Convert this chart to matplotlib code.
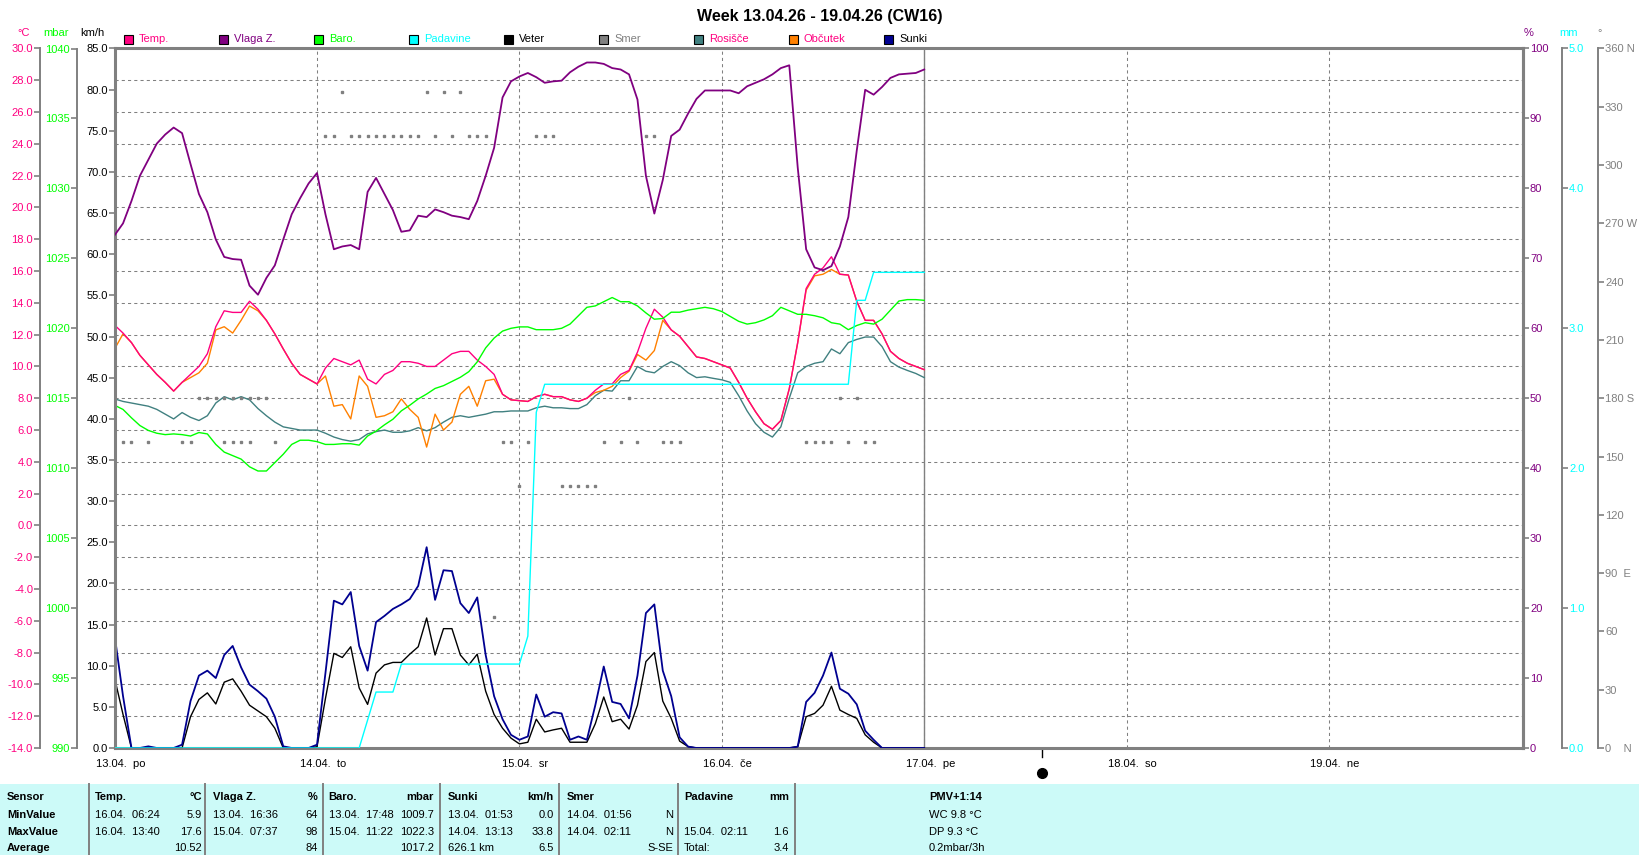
# Weather station week chart (WsWin style) - 13.04.26 - 19.04.26

import numpy as np
import matplotlib
matplotlib.use("Agg")
import matplotlib.pyplot as plt
import matplotlib.transforms as mtransforms
from matplotlib.patches import Rectangle
from matplotlib.ticker import FormatStrFormatter

plt.rcParams['font.family'] = ['Liberation Sans', 'DejaVu Sans']
plt.rcParams['font.size'] = 8

# ---- data (hourly, 13.04. 00:00 -> 17.04. 00:00) ----
temp = [12.6, 12.1, 11.5, 10.7, 10.1, 9.5, 9.0, 8.45, 9.0, 9.5, 10.0, 10.8, 12.5, 13.5, 13.4, 13.4, 14.1, 13.6, 12.9, 12.05, 11.1, 10.2, 9.5, 9.2,
        8.9, 9.9, 10.5, 10.3, 10.1, 10.4, 9.2, 8.9, 9.5, 9.75, 10.3, 10.3, 10.2, 10.0, 10.0, 10.4, 10.8, 10.95, 10.95, 10.4, 10.0, 9.5, 8.25, 7.9,
        7.85, 7.8, 8.1, 8.25, 8.1, 8.1, 7.9, 7.8, 8.0, 8.5, 8.9, 8.9, 9.5, 9.75, 10.9, 12.4, 13.6, 13.1, 12.3, 11.9, 11.25, 10.6, 10.5, 10.3,
        10.1, 9.9, 9.0, 8.0, 7.15, 6.4, 6.05, 6.6, 8.6, 11.5, 14.9, 15.8, 16.2, 16.9, 15.8, 15.75, 14.1, 12.9, 12.9, 12.05, 10.95, 10.5, 10.2, 10.0,
        9.8]
feel = [11.1, 12.05, 11.5, 10.7, 10.1, 9.5, 9.0, 8.45, 9.0, 9.3, 9.6, 10.2, 12.3, 12.5, 12.1, 12.9, 13.8, 13.5, 12.9, 12.05, 11.1, 10.2, 9.5, 9.2,
        8.9, 9.4, 7.5, 7.6, 6.7, 9.4, 8.75, 6.8, 6.9, 7.15, 7.96, 7.3, 6.8, 4.93, 7.0, 6.0, 6.5, 8.25, 8.75, 7.5, 9.1, 9.2, 8.25, 7.9,
        7.85, 7.8, 8.1, 8.25, 8.1, 8.1, 7.9, 7.8, 8.0, 8.36, 8.5, 8.75, 9.3, 9.7, 10.75, 10.4, 11.0, 12.9, 12.3, 11.9, 11.25, 10.6, 10.5, 10.3,
        10.1, 9.9, 9.0, 8.0, 7.15, 6.4, 6.05, 6.6, 8.6, 11.5, 14.8, 15.7, 15.8, 16.1, 15.8, 15.75, 14.1, 12.9, 12.9, 12.05, 10.95, 10.5, 10.2, 10.0,
        9.8]
dew = [7.96, 7.8, 7.7, 7.6, 7.5, 7.3, 7.0, 6.7, 7.1, 6.8, 6.6, 6.9, 7.7, 8.1, 7.9, 8.1, 7.9, 7.35, 6.9, 6.5, 6.2, 6.1, 6.0, 6.0,
       6.0, 5.8, 5.56, 5.4, 5.3, 5.4, 5.76, 5.9, 6.0, 5.86, 5.86, 5.95, 6.15, 5.95, 6.15, 6.5, 6.8, 6.9, 6.8, 6.9, 7.0, 7.15, 7.15, 7.2,
       7.2, 7.2, 7.4, 7.5, 7.4, 7.4, 7.35, 7.35, 7.6, 8.16, 8.5, 8.45, 9.1, 9.1, 10.0, 9.7, 9.6, 10.0, 10.3, 10.05, 9.6, 9.3, 9.35, 9.25,
       9.16, 9.0, 8.16, 7.2, 6.4, 5.86, 5.56, 6.2, 8.0, 9.6, 10.0, 10.2, 10.3, 11.1, 10.8, 11.5, 11.7, 11.85, 11.85, 11.25, 10.3, 9.96, 9.75, 9.56,
       9.3]
humidity = [73.3, 75.0, 78.2, 81.8, 84.1, 86.4, 87.7, 88.7, 87.9, 83.5, 79.2, 76.6, 72.7, 70.2, 69.9, 69.8, 66.1, 64.8, 67.2, 69.0, 72.7, 76.3, 78.6, 80.7,
            82.2, 76.3, 71.3, 71.7, 71.9, 71.3, 79.5, 81.5, 79.2, 76.9, 73.8, 74.0, 76.1, 75.9, 77.0, 76.6, 76.1, 75.9, 75.6, 78.2, 81.8, 85.8, 93.0, 95.3,
            96.0, 96.5, 95.9, 95.1, 95.3, 95.4, 96.6, 97.4, 98.0, 98.0, 97.8, 97.2, 97.0, 96.3, 92.7, 81.8, 76.4, 81.2, 87.5, 88.4, 90.7, 92.8, 94.0, 94.0,
            94.0, 94.0, 93.6, 94.6, 95.1, 95.6, 96.3, 97.2, 97.6, 83.0, 71.3, 68.7, 68.3, 68.9, 71.7, 75.9, 85.4, 94.1, 93.4, 94.5, 95.8, 96.3, 96.4, 96.5,
            97.0]
pressure = [1014.5, 1014.2, 1013.6, 1013.05, 1012.7, 1012.5, 1012.4, 1012.45, 1012.4, 1012.3, 1012.55, 1012.45, 1011.7, 1011.15, 1010.9, 1010.65, 1010.1, 1009.8, 1009.8, 1010.4, 1011.0, 1011.7, 1012.0, 1012.0,
            1011.9, 1011.7, 1011.7, 1011.75, 1011.75, 1011.65, 1012.3, 1012.65, 1013.1, 1013.5, 1014.1, 1014.5, 1014.95, 1015.3, 1015.7, 1015.9, 1016.2, 1016.5, 1016.9, 1017.6, 1018.6, 1019.3, 1019.8, 1020.0,
            1020.1, 1020.1, 1019.9, 1019.9, 1019.9, 1020.0, 1020.3, 1020.9, 1021.5, 1021.6, 1021.9, 1022.2, 1021.9, 1021.9, 1021.6, 1021.1, 1020.65, 1020.7, 1021.15, 1021.15, 1021.3, 1021.4, 1021.5, 1021.4,
            1021.2, 1020.85, 1020.5, 1020.3, 1020.4, 1020.6, 1020.9, 1021.5, 1021.25, 1021.0, 1021.0, 1020.9, 1020.75, 1020.4, 1020.3, 1019.9, 1020.2, 1020.4, 1020.3, 1020.65, 1021.3, 1021.95, 1022.05, 1022.05,
            1022.0]
rain = [0.0, 0.0, 0.0, 0.0, 0.0, 0.0, 0.0, 0.0, 0.0, 0.0, 0.0, 0.0, 0.0, 0.0, 0.0, 0.0, 0.0, 0.0, 0.0, 0.0, 0.0, 0.0, 0.0, 0.0,
        0.0, 0.0, 0.0, 0.0, 0.0, 0.0, 0.2, 0.4, 0.4, 0.4, 0.6, 0.6, 0.6, 0.6, 0.6, 0.6, 0.6, 0.6, 0.6, 0.6, 0.6, 0.6, 0.6, 0.6,
        0.6, 0.8, 2.4, 2.6, 2.6, 2.6, 2.6, 2.6, 2.6, 2.6, 2.6, 2.6, 2.6, 2.6, 2.6, 2.6, 2.6, 2.6, 2.6, 2.6, 2.6, 2.6, 2.6, 2.6,
        2.6, 2.6, 2.6, 2.6, 2.6, 2.6, 2.6, 2.6, 2.6, 2.6, 2.6, 2.6, 2.6, 2.6, 2.6, 2.6, 3.2, 3.2, 3.4, 3.4, 3.4, 3.4, 3.4, 3.4,
        3.4]
wind = [8.5, 4.07, 0, 0, 0, 0, 0, 0, 0, 3.8, 5.9, 6.7, 5.35, 8.0, 8.4, 6.9, 5.2, 4.5, 3.8, 2.4, 0, 0, 0, 0,
        0.15, 6.0, 11.5, 11.0, 12.3, 7.3, 5.3, 9.1, 10.1, 10.4, 10.4, 11.4, 12.3, 15.8, 11.3, 14.5, 14.5, 11.3, 10.1, 11.4, 6.9, 4.07, 2.4, 1.2,
        0.5, 0.7, 3.5, 1.95, 2.2, 2.4, 0.7, 0.7, 0.7, 2.95, 6.2, 3.2, 3.5, 2.3, 5.2, 10.5, 11.6, 5.7, 3.6, 0.84, 0.17, 0, 0, 0,
        0, 0, 0, 0, 0, 0, 0, 0, 0, 0.17, 3.8, 4.2, 5.2, 7.5, 4.6, 4.07, 3.6, 1.6, 0.7, 0, 0, 0, 0, 0,
        0]
gust = [13.7, 6.3, 0, 0, 0.2, 0, 0, 0, 0.4, 5.7, 8.8, 9.4, 8.5, 11.3, 12.4, 9.8, 7.7, 6.9, 6.0, 3.8, 0.2, 0, 0, 0,
        0.4, 9.1, 17.9, 17.45, 18.95, 12.4, 9.4, 15.3, 16.05, 16.9, 17.45, 18.1, 19.7, 24.4, 18.0, 21.6, 21.5, 17.6, 16.4, 18.3, 11.3, 6.3, 3.5, 1.6,
        1.0, 1.4, 6.5, 3.8, 4.35, 4.2, 1.0, 1.4, 1.0, 5.2, 9.9, 5.6, 5.35, 3.6, 8.8, 16.4, 17.45, 9.4, 6.3, 1.3, 0.17, 0, 0, 0,
        0, 0, 0, 0, 0, 0, 0, 0, 0, 0.17, 5.6, 6.7, 8.8, 11.6, 7.2, 6.6, 5.3, 2.1, 1.0, 0, 0, 0, 0, 0,
        0]
dir_hours = [1, 2, 4, 8, 9, 10, 11, 12, 13, 13, 14, 14, 15, 15, 16, 16, 17, 18, 19,
             25, 26, 27, 28, 29, 30, 31, 32, 33, 34, 35, 36, 37, 38, 39, 40, 41, 42, 43, 44, 45, 46, 47,
             48, 49, 50, 51, 52, 53, 54, 55, 56, 57, 58, 60, 61, 62, 63, 64, 65, 66, 67,
             82, 83, 84, 85, 86, 87, 88, 89, 90]
dir_deg = [157.5, 157.5, 157.5, 157.5, 157.5, 180, 180, 180, 180, 157.5, 180, 157.5, 180, 157.5, 180, 157.5, 180, 180, 157.5,
           315, 315, 337.5, 315, 315, 315, 315, 315, 315, 315, 315, 315, 337.5, 315, 337.5, 315, 337.5, 315, 315, 315, 67.5, 157.5, 157.5,
           135, 157.5, 315, 315, 315, 135, 135, 135, 135, 135, 157.5, 157.5, 180, 157.5, 315, 315, 157.5, 157.5, 157.5,
           157.5, 157.5, 157.5, 157.5, 180, 157.5, 180, 157.5, 157.5]
moon_hour = 110  # new moon 17.04. ~14:00

day_labels = ['13.04.  po', '14.04.  to', '15.04.  sr', '16.04.  če', '17.04.  pe', '18.04.  so', '19.04.  ne']
dir_labels = ['0    N', '30', '60', '90  E', '120', '150', '180 S', '210', '240', '270 W', '300', '330', '360 N']

legend_names = ['Temp.', 'Vlaga Z.', 'Baro.', 'Padavine', 'Veter', 'Smer', 'Rosišče', 'Občutek', 'Sunki']
legend_boxes = ['#ff0080', '#800080', '#00ff00', '#00ffff', '#000000', '#808080', '#408080', '#ff8000', '#000090']
legend_text = ['#ff0080', '#800080', '#00ff00', '#00ffff', '#000000', '#808080', '#ff0080', '#ff0080', '#000000']

table_rows = ['Sensor', 'MinValue', 'MaxValue', 'Average']
table_cols = [  # (header, unit, [(left text, right text) per data row])
    ('Temp.', '°C', [('16.04.  06:24', '5.9'), ('16.04.  13:40', '17.6'), ('', '10.52')]),
    ('Vlaga Z.', '%', [('13.04.  16:36', '64'), ('15.04.  07:37', '98'), ('', '84')]),
    ('Baro.', 'mbar', [('13.04.  17:48', '1009.7'), ('15.04.  11:22', '1022.3'), ('', '1017.2')]),
    ('Sunki', 'km/h', [('13.04.  01:53', '0.0'), ('14.04.  13:13', '33.8'), ('626.1 km', '6.5')]),
    ('Smer', '', [('14.04.  01:56', 'N'), ('14.04.  02:11', 'N'), ('', 'S-SE')]),
    ('Padavine', 'mm', [('', ''), ('15.04.  02:11', '1.6'), ('Total:', '3.4')]),
]
pmv_lines = ['PMV+1:14', 'WC 9.8 °C', 'DP 9.3 °C', '0.2mbar/3h']

# ---- figure ----
W, H = 1639, 855
GRAY = '#808080'
fig = plt.figure(figsize=(W / 100, H / 100), dpi=100)


def fx(px):
    return px / W


def fy(py):
    return 1 - py / H


L, R, T, B = 114.6, 1523, 48.5, 748
ax = fig.add_axes([fx(L), fy(B), (R - L) / W, (B - T) / H])
hours = np.arange(len(temp))


def axpos(px):
    return (px - L) / (R - L)


# temperature axis + grid + frame
ax.set_xlim(0, 167)
ax.set_ylim(-14, 30)
ax.set_yticks(np.arange(-14, 31, 2))
ax.yaxis.set_major_formatter(FormatStrFormatter('%.1f'))
ax.tick_params(axis='y', color=GRAY, labelcolor='#ff0080', length=4, width=1.2, pad=1)
ax.set_xticks(np.arange(0, 145, 24))
ax.set_xticklabels(day_labels)
ax.tick_params(axis='x', length=0, pad=8, labelsize=8)
offset = mtransforms.ScaledTranslation(0.06, 0, fig.dpi_scale_trans)
for lab in ax.get_xticklabels():
    lab.set_transform(lab.get_transform() + offset)
for side in ['top', 'bottom', 'right']:
    ax.spines[side].set_color(GRAY)
    ax.spines[side].set_linewidth(2.2)
ax.spines['left'].set_position(('axes', axpos(40)))
ax.spines['left'].set_color(GRAY)
ax.spines['left'].set_linewidth(1.4)
ax.grid(True, color=GRAY, linestyle=(0, (3, 3)), linewidth=0.75)
ax.axvline(hours[-1], color=GRAY, linewidth=1.0)

ax.plot(hours, dew, color='#408080', lw=1.0)
ax.plot(hours, feel, color='#ff8000', lw=1.0)
ax.plot(hours, temp, color='#ff0080', lw=1.0)


def side_axis(side, px, lim, ticks, color, fmt=None, lw=1.4):
    a = ax.twinx()
    for s in a.spines.values():
        s.set_visible(False)
    a.set_ylim(*lim)
    a.set_yticks(ticks)
    if side == 'left':
        a.yaxis.tick_left()
    else:
        a.yaxis.tick_right()
    sp = a.spines[side]
    sp.set_visible(True)
    sp.set_position(('axes', axpos(px)))
    sp.set_color(GRAY)
    sp.set_linewidth(lw)
    if fmt:
        a.yaxis.set_major_formatter(FormatStrFormatter(fmt))
    a.tick_params(axis='y', color=GRAY, labelcolor=color, length=4, width=1.2, pad=1)
    return a


ax_p = side_axis('left', 77, (990, 1040), np.arange(990, 1041, 5), '#00ff00', '%d')
ax_w = side_axis('left', L, (0, 85), np.arange(0, 86, 5), 'black', '%.1f', lw=2.2)
ax_h = side_axis('right', R, (0, 100), np.arange(0, 101, 10), '#800080', '%d', lw=2.2)
ax_r = side_axis('right', 1562, (0, 5), np.arange(0, 6, 1), '#00ffff', '%.1f')
ax_d = side_axis('right', 1598, (0, 360), np.arange(0, 361, 30), GRAY)
ax_d.set_yticklabels(dir_labels)

ax_p.plot(hours, pressure, color='#00ff00', lw=1.0)
ax_r.plot(hours, rain, color='#00ffff', lw=1.0)
ax_w.plot(hours, wind, color='black', lw=1.0)
ax_w.plot(hours, gust, color='#000090', lw=1.3)
ax_h.plot(hours, humidity, color='#800080', lw=1.3)
ax_d.plot(dir_hours, dir_deg, linestyle='none', marker='s', ms=1.5, color=GRAY, mec=GRAY)

# moon phase marker below the time axis
trans = mtransforms.blended_transform_factory(ax.transData, fig.transFigure)
ax.plot([moon_hour, moon_hour], [fy(749), fy(757)], transform=trans, color='black', lw=1, clip_on=False)
ax.plot([moon_hour], [fy(773)], transform=trans, marker='o', ms=7, color='black', clip_on=False)

# title, unit labels, legend
fig.text(fx(820), fy(16), 'Week 13.04.26 - 19.04.26 (CW16)', ha='center', va='center',
         fontsize=11.5, fontweight='bold')
for px, txt, col in [(24, '°C', '#ff0080'), (56, 'mbar', '#00ff00'), (92, 'km/h', 'black'),
                     (1529, '%', '#800080'), (1569, 'mm', '#00ffff'), (1600, '°', GRAY)]:
    fig.text(fx(px), fy(33), txt, ha='center', va='center', color=col, fontsize=8)

for i, name in enumerate(legend_names):
    x0 = 124 + i * 95
    fig.add_artist(Rectangle((fx(x0), fy(44)), 9 / W, 9 / H, transform=fig.transFigure,
                             facecolor=legend_boxes[i], edgecolor='black', lw=0.8))
    fig.text(fx(x0 + 15), fy(39.5), name, ha='left', va='center', color=legend_text[i], fontsize=8)

# statistics table at the bottom
fig.add_artist(Rectangle((0, 0), 1, fy(784), transform=fig.transFigure, facecolor='#ccfaf8',
                         edgecolor='none'))
for px in [88.6, 205, 322.5, 440, 558.6, 677.5, 794.6]:
    fig.add_artist(plt.Line2D([fx(px), fx(px)], [0, fy(784)], transform=fig.transFigure,
                              color=GRAY, lw=1.4))

row_y = [797, 814.5, 831.5, 848]
for y, name in zip(row_y, table_rows):
    fig.text(fx(7), fy(y), name, ha='left', va='center', fontweight='bold', fontsize=8)

col_left = [94.6, 213.2, 328.6, 448.2, 566.8, 683.9]
col_right = [201.8, 317.9, 434, 553.6, 672.9, 788.9]
for (head, unit, cells), xl, xr in zip(table_cols, col_left, col_right):
    fig.text(fx(xl), fy(row_y[0]), head, ha='left', va='center', fontweight='bold', fontsize=8)
    fig.text(fx(xr), fy(row_y[0]), unit, ha='right', va='center', fontweight='bold', fontsize=8)
    for y, (lt, rt) in zip(row_y[1:], cells):
        fig.text(fx(xl), fy(y), lt, ha='left', va='center', fontsize=8)
        fig.text(fx(xr), fy(y), rt, ha='right', va='center', fontsize=8)

for i, (y, txt) in enumerate(zip(row_y, pmv_lines)):
    fig.text(fx(929), fy(y), txt, ha='left', va='center', fontsize=8,
             fontweight='bold' if i == 0 else 'normal')

fig.savefig('out.png', dpi=100)
